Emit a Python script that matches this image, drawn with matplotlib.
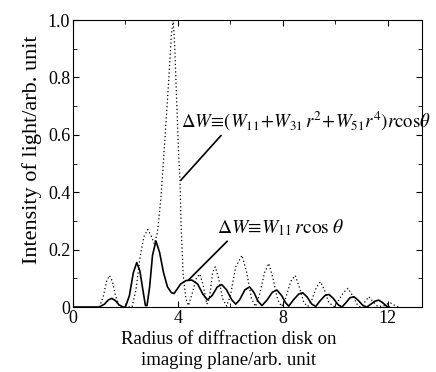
import matplotlib
matplotlib.use('Agg')
import matplotlib.pyplot as plt
from matplotlib.ticker import MultipleLocator

plt.rcParams['font.family'] = ['Liberation Serif', 'DejaVu Serif']
plt.rcParams['mathtext.fontset'] = 'stix'

# Solid curve: dW = W11 r cos(theta)
r_solid = [0.0, 1.0, 1.2, 1.35, 1.48, 1.62, 1.75, 1.9,
           2.0, 2.15, 2.3, 2.43, 2.55, 2.68, 2.76, 2.82,
           2.92, 3.03, 3.16, 3.3, 3.45, 3.6, 3.75, 3.85,
           3.95, 4.1, 4.3, 4.53, 4.75, 4.95, 5.12,
           5.3, 5.5, 5.67, 5.85, 6.05, 6.2,
           6.35, 6.55, 6.73, 6.9, 7.05, 7.2,
           7.4, 7.6, 7.77, 7.95, 8.1, 8.22,
           8.4, 8.6, 8.75, 8.92, 9.1, 9.25,
           9.4, 9.6, 9.75, 9.92, 10.1, 10.25,
           10.4, 10.55, 10.7, 10.85, 11.05, 11.2,
           11.35, 11.5, 11.65, 11.8, 11.95, 12.05]
i_solid = [0.0, 0.0, 0.01, 0.025, 0.03, 0.022, 0.008, 0.0,
           0.0, 0.04, 0.12, 0.155, 0.125, 0.05, 0.005, 0.005,
           0.07, 0.18, 0.23, 0.19, 0.12, 0.07, 0.05, 0.047,
           0.06, 0.08, 0.092, 0.094, 0.08, 0.045, 0.025,
           0.04, 0.07, 0.078, 0.06, 0.025, 0.01,
           0.025, 0.06, 0.07, 0.05, 0.02, 0.005,
           0.025, 0.052, 0.059, 0.04, 0.015, 0.003,
           0.025, 0.045, 0.05, 0.035, 0.01, 0.002,
           0.02, 0.04, 0.044, 0.03, 0.008, 0.0,
           0.015, 0.032, 0.036, 0.025, 0.005, 0.0,
           0.01, 0.02, 0.024, 0.015, 0.003, 0.0]

# Dotted curve: dW = (W11 + W31 r^2 + W51 r^4) r cos(theta)
r_dot = [1.0, 1.15, 1.28, 1.39, 1.5, 1.62, 1.75, 1.85,
         2.25, 2.4, 2.55, 2.7, 2.85, 2.97, 3.1, 3.22, 3.35, 3.5, 3.64, 3.75, 3.82,
         3.88, 3.95, 4.03, 4.08, 4.12, 4.2, 4.3, 4.4,
         4.55, 4.7, 4.83, 4.95, 5.1, 5.2, 5.32, 5.42, 5.55, 5.7, 5.85,
         6.0, 6.2, 6.44, 6.62, 6.8, 6.95,
         7.1, 7.3, 7.46, 7.62, 7.8, 7.95,
         8.1, 8.3, 8.47, 8.62, 8.8, 8.95,
         9.1, 9.28, 9.43, 9.58, 9.75, 9.95,
         10.1, 10.3, 10.48, 10.65, 10.82, 10.95,
         11.1, 11.27, 11.42, 11.6, 11.8, 11.95, 12.1, 12.25, 12.4]
i_dot = [0.0, 0.035, 0.09, 0.11, 0.09, 0.04, 0.005, 0.0,
         0.0, 0.06, 0.17, 0.245, 0.27, 0.25, 0.22, 0.26, 0.38, 0.58, 0.78, 0.95, 1.0,
         0.9, 0.72, 0.52, 0.44, 0.28, 0.11, 0.03, 0.005,
         0.05, 0.1, 0.115, 0.08, 0.01, 0.03, 0.12, 0.14, 0.1, 0.03, 0.003,
         0.04, 0.14, 0.18, 0.12, 0.03, 0.002,
         0.04, 0.12, 0.152, 0.1, 0.025, 0.002,
         0.03, 0.09, 0.11, 0.07, 0.015, 0.002,
         0.025, 0.07, 0.088, 0.06, 0.015, 0.002,
         0.02, 0.05, 0.065, 0.04, 0.01, 0.0,
         0.015, 0.036, 0.02, 0.003, 0.002, 0.01, 0.014, 0.006, 0.0]

fig = plt.figure(figsize=(4.36, 3.72), dpi=100)
ax = fig.add_axes([0.1674, 0.1747, 0.8006, 0.7713])

ax.plot(r_solid, i_solid, color='black', lw=1.2)
ax.plot(r_dot, i_dot, color='black', lw=0.9, linestyle=(0, (1, 2)))

ax.set_xlim(0, 13.3)
ax.set_ylim(0, 1.0)
ax.set_xticks([0, 4, 8, 12])
ax.set_xticklabels(['0', '4', '8', '12'])
ax.xaxis.set_minor_locator(MultipleLocator(2))
ax.set_yticks([0, 0.2, 0.4, 0.6, 0.8, 1.0])
ax.set_yticklabels(['0', '0.2', '0.4', '0.6', '0.8', '1.0'])
ax.yaxis.set_minor_locator(MultipleLocator(0.1))
ax.tick_params(which='both', direction='in', top=True, right=True, labelsize=13, pad=2)
ax.tick_params(which='major', length=4)
ax.tick_params(which='minor', length=3)

ax.set_xlabel('Radius of diffraction disk on\nimaging plane/arb. unit', fontsize=13.5, linespacing=1.3)
ax.xaxis.set_label_coords(0.447, -0.085, transform=ax.transAxes)
ax.xaxis.label.set_va('top')
ax.set_ylabel('Intensity of light/arb. unit', fontsize=16)
ax.yaxis.set_label_coords(-0.09, 0.55)

ax.annotate(r'$\Delta W\!\equiv\!(W_{11}\!+\!W_{31}\,r^2\!+\!W_{51}r^4)r\mathrm{cos}\theta$',
            xy=(4.11, 0.442), xytext=(4.12, 0.648), fontsize=13.5, va='center', ha='left',
            annotation_clip=False,
            arrowprops=dict(arrowstyle='-', color='black', lw=1.2, shrinkA=0, shrinkB=0,
                            relpos=(0.17, 0.0)))
ax.annotate(r'$\Delta W\!\equiv\!W_{11}\,r\mathrm{cos}\;\theta$',
            xy=(4.4, 0.094), xytext=(5.5, 0.275), fontsize=14, va='center', ha='left',
            arrowprops=dict(arrowstyle='-', color='black', lw=1.2, shrinkA=0, shrinkB=0,
                            relpos=(0.1, 0.0)))

fig.savefig('out.png', dpi=100)
